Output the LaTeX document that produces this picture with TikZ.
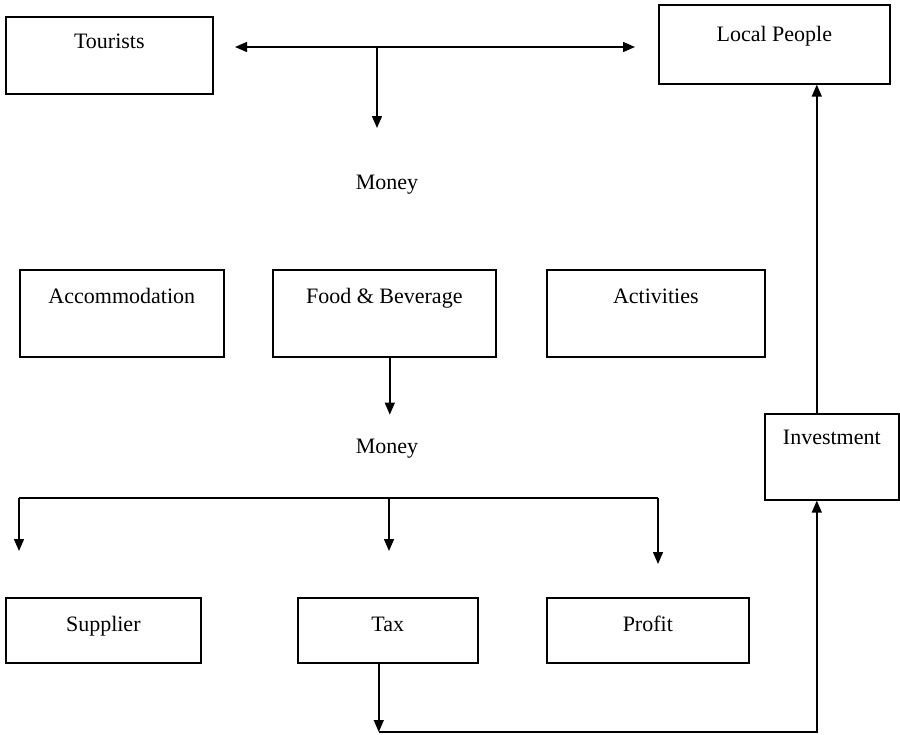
\documentclass[tikz,border=0pt]{standalone}
\usepackage{fontspec}
\setmainfont{Liberation Serif}
\usepackage{tikz}
\usetikzlibrary{arrows.meta}

\tikzset{
  box/.style={draw, line width=0.8pt, anchor=north west, inner xsep=0pt, inner ysep=0pt, font=\fontsize{11}{13}\selectfont},
  word/.style={font=\fontsize{11}{13}\selectfont}
}

\begin{document}
\begin{tikzpicture}[line cap=butt,line join=miter,>={Triangle[length=6pt,width=5pt]},x=0.5pt,y=-0.5pt,line width=0.7pt]

		\useasboundingbox (0,0) rectangle (900,734);

		%boxes on top
		\node[box, minimum width=103.5pt, text height=16pt, text depth=22.5pt] (tourists) at (5,16) {Tourists};
		\node[box, minimum width=115.5pt, text height=18.5pt, text depth=21pt] (locals) at (658,4) {Local People};

		%money from tourists
		\coordinate (tl) at (235,47);
		\coordinate (tr) at (635,47);
		\draw[<->] (tl) -- (tr);
		\draw[->] (377,47) -- (377,128);
		\node[word] (money1) at (387,185) {Money};

		%middle row
		\node[box, minimum width=102pt, text height=17pt, text depth=26.5pt] (accom) at (19,269) {Accommodation};
		\node[box, minimum width=111.5pt, text height=17pt, text depth=26.5pt] (food) at (272,269) {Food \& Beverage};
		\node[box, minimum width=109pt, text height=17pt, text depth=26.5pt] (activ) at (546,269) {Activities};

		\draw[->] ([xshift=2.75pt]food.south) -- ++(0,57);
		\node[word] (money2) at (387,449) {Money};

		%splitting the money
		\coordinate (bl) at (19,498);
		\coordinate (br) at (658,498);
		\draw (bl) -- (br);
		\foreach \x/\y in {19/551, 389/551, 658/564}
		{\draw[->] (\x,498) -- (\x,\y);
		}

		%bottom row
		\node[box, minimum width=97.5pt, text height=17pt, text depth=15.5pt] (supplier) at (5,597) {Supplier};
		\node[box, minimum width=90pt, text height=17pt, text depth=15.5pt] (tax) at (297,597) {Tax};
		\node[box, minimum width=101pt, text height=17pt, text depth=15.5pt] (profit) at (546,597) {Profit};

		%investment back to local people
		\node[box, minimum width=67pt, text height=15.5pt, text depth=27.5pt] (invest) at (764,413) {Investment};

		\coordinate (floor) at (0,732);
		\coordinate (bend) at ([xshift=-4.5pt]tax.south |- floor);
		\draw[->] ([xshift=-4.5pt]tax.south) -- (bend);
		\draw[->] (bend) -| ([xshift=-7.5pt]invest.south);
		\draw[->] ([xshift=-7.5pt]invest.north) -- ([xshift=-7.5pt]invest.north |- locals.south);

	\end{tikzpicture}
\end{document}
